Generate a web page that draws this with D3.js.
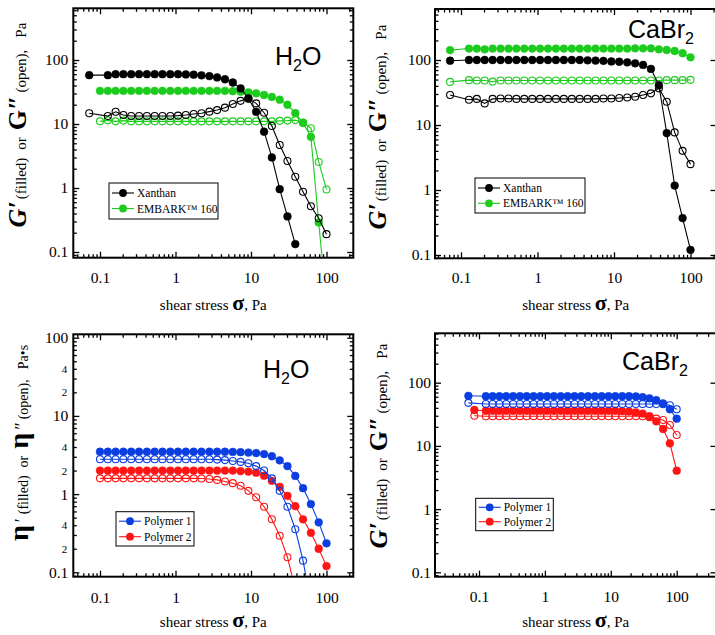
<!DOCTYPE html>
<html><head><meta charset="utf-8">
<script src="https://cdn.jsdelivr.net/npm/d3@7"></script>
<style>
html,body{margin:0;padding:0;background:#fff;}
svg{display:block;}
text{font-family:"Liberation Serif","Times New Roman",serif;fill:#000;}
</style></head><body>
<svg id="c" width="715" height="635"></svg>
<script>
// ================= DATA =================
const xTickValues = [0.1, 1, 10, 100];
const xTickLabels = ["0.1", "1", "10", "100"];
const yTickValues = [0.1, 1, 10, 100];
const yTickLabels = ["0.1", "1", "10", "100"];
const etaMinorValues = [0.2, 0.4, 2, 4, 20, 40];
const etaMinorLabels = ["2", "4", "2", "4", "2", "4"];

// stress sweep points (Pa)
const sweepX = [0.1, 0.127, 0.161, 0.204, 0.259, 0.329, 0.418, 0.530, 0.672, 0.853,
  1.08, 1.37, 1.74, 2.21, 2.81, 3.56, 4.52, 5.74, 7.28, 9.24,
  11.7, 14.9, 18.9, 24.0, 30.4, 38.6, 48.9, 62.1, 78.8, 100];
const sweepXa = [0.072, 0.127, 0.161, 0.204, 0.259, 0.329, 0.418, 0.530, 0.672, 0.853,
  1.08, 1.37, 1.74, 2.21, 2.81, 3.56, 4.52, 5.74, 7.28, 9.24,
  11.7, 14.9, 18.9, 24.0, 30.4, 38.6, 48.9, 62.1, 78.8, 100];
const sweepXb = [0.069, 0.127, 0.161, 0.204, 0.259, 0.329, 0.418, 0.530, 0.672, 0.853,
  1.08, 1.37, 1.74, 2.21, 2.81, 3.56, 4.52, 5.74, 7.28, 9.24,
  11.7, 14.9, 18.9, 24.0, 30.4, 38.6, 48.9, 62.1, 78.8, 100];
const sweepXc = [0.085, 0.127, 0.161, 0.204, 0.259, 0.329, 0.418, 0.530, 0.672, 0.853,
  1.08, 1.37, 1.74, 2.21, 2.81, 3.56, 4.52, 5.74, 7.28, 9.24,
  11.7, 14.9, 18.9, 24.0, 30.4, 38.6, 48.9, 62.1, 78.8, 100];

// Panel 1: H2O, G' (filled) and G'' (open), Pa
const h2oXanthanGp  = [58, 58, 60, 60, 60, 60, 60, 60, 60, 60, 60, 59.5, 59, 57.6, 56, 53.5, 50, 44.5, 36, 25, 15.5, 7.6, 3.0, 0.96, 0.36, 0.133];
const h2oXanthanGpp = [14.7, 13.3, 15.5, 13.8, 13.3, 13.3, 13.3, 13.3, 13.3, 13.3, 13.5, 13.8, 14.3, 14.7, 15.6, 16.5, 18.0, 20.5, 23, 25, 21, 15, 9.3, 4.7, 2.64, 1.5, 0.875, 0.52, 0.336, 0.19];
const h2oEmbarkGp   = [33, 33, 33, 33, 33, 33, 33, 33, 33, 33, 33, 33, 33, 33, 33, 33, 33, 32.6, 32, 31.3, 30.2, 28.4, 26.5, 24, 20, 14.8, 10.4, 6.3, 0.29, 0.016];
const h2oEmbarkGpp  = [11.0, 11.4, 11.0, 11.3, 11.0, 11.0, 11.0, 11.0, 11.0, 11.0, 11.0, 11.0, 11.0, 11.0, 11.0, 11.0, 11.0, 11.0, 11.0, 11.0, 11.0, 11.0, 11.0, 11.2, 11.3, 11.5, 10.5, 8.6, 2.55, 0.95];

// Panel 2: CaBr2, G' and G''
const cabXanthanGp  = [97.5, 100, 100, 100, 100, 100, 100, 100, 100, 100, 100, 100, 100, 100, 100, 100, 99, 98, 97, 95, 94, 92, 89, 84, 73, 41, 7.5, 1.17, 0.37, 0.12];
const cabXanthanGpp = [28.9, 24.5, 25.2, 21.5, 25.2, 25.5, 25.5, 25.2, 25.2, 25.2, 25.2, 25.2, 25.2, 25.2, 25.2, 25.2, 25.2, 25.2, 25.5, 25.5, 26, 26.5, 27.2, 28.9, 30.7, 36.6, 22.8, 7.7, 4.0, 2.5];
const cabEmbarkGp   = [142, 150, 150, 146, 150, 150, 150, 150, 150, 150, 150, 150, 150, 150, 150, 150, 150, 150, 150, 150, 150, 150, 151, 151, 151, 146, 142.5, 137.5, 127, 110];
const cabEmbarkGpp  = [46, 49, 48.5, 48.5, 46.5, 48.5, 48.5, 48.5, 48.5, 48.5, 48.5, 48.5, 48.5, 48.5, 48.5, 48.5, 48.5, 48.5, 48.5, 48.5, 48.5, 48.5, 48.5, 48.5, 48.5, 48.5, 49, 49, 49, 49.5];

// Panel 3: H2O, eta' (filled) and eta'' (open), Pa·s
const h2oPoly1Etap  = [3.48, 3.48, 3.48, 3.48, 3.48, 3.48, 3.48, 3.48, 3.48, 3.48, 3.48, 3.48, 3.48, 3.48, 3.48, 3.48, 3.48, 3.46, 3.44, 3.40, 3.35, 3.25, 3.05, 2.7, 2.28, 1.71, 1.19, 0.746, 0.435, 0.235];
const h2oPoly1Etapp = [2.79, 2.79, 2.79, 2.79, 2.79, 2.79, 2.79, 2.79, 2.79, 2.79, 2.79, 2.79, 2.79, 2.79, 2.79, 2.76, 2.72, 2.65, 2.58, 2.48, 2.28, 2.0, 1.59, 1.10, 0.69, 0.355, 0.141, 0.04];
const h2oPoly2Etap  = [2.0, 2.0, 2.0, 2.0, 2.0, 2.0, 2.0, 2.0, 2.0, 2.0, 2.0, 2.0, 2.0, 2.0, 2.0, 2.0, 2.0, 2.0, 1.97, 1.94, 1.88, 1.72, 1.48, 1.24, 0.95, 0.7, 0.476, 0.32, 0.2, 0.12];
const h2oPoly2Etapp = [1.59, 1.59, 1.59, 1.59, 1.59, 1.59, 1.59, 1.59, 1.59, 1.59, 1.59, 1.59, 1.59, 1.58, 1.56, 1.52, 1.45, 1.38, 1.28, 1.10, 0.91, 0.69, 0.476, 0.294, 0.156, 0.06];

// Panel 4: CaBr2, G' and G''
const cabPoly1Gp  = [62, 61, 61, 61, 61, 61, 61, 61, 61, 61, 61, 61, 61, 61, 61, 61, 61, 61, 61, 61, 61, 61, 61, 60.5, 59, 56.6, 53, 47, 38, 27];
const cabPoly1Gpp = [48, 46, 46, 46, 46, 46, 46, 46, 46, 46, 46, 46, 46, 46, 46, 46, 46, 46, 46, 46, 46, 46, 46, 46, 46, 46, 46, 45.5, 44, 38];
const cabPoly2Gp  = [37, 36, 36, 36, 36, 36, 36, 36, 36, 36, 36, 36, 36, 36, 36, 36, 36, 36, 36, 36, 36, 35.5, 35, 34, 32.5, 29.5, 24.5, 18.5, 11, 4.05];
const cabPoly2Gpp = [30, 29.5, 29.5, 29.5, 29.5, 29.5, 29.5, 29.5, 29.5, 29.5, 29.5, 29.5, 29.5, 29.5, 29.5, 29.5, 29.5, 29.5, 29.5, 29.5, 29.5, 29.5, 29.5, 29.5, 29.5, 28.5, 27, 25.7, 21.4, 14.9];

const legendA = ["Xanthan", "EMBARK\u2122 160"];
const legendB = ["Polymer 1", "Polymer 2"];
const xTitle = ["shear stress ", "\u03C3", ", Pa"];

// ================= STYLE / LAYOUT =================
const C = {black: "#000000", green: "#1ccc1c", blue: "#0a3ee0", red: "#ff1414"};

const svg = d3.select("#c");
let clipId = 0;

function zip(xs, ys) { return ys.map((v, i) => [xs[i], v]); }

function drawPanel(cfg) {
  const g = svg.append("g");
  const x = d3.scaleLog().domain([0.1, 100]).range(cfg.xr);
  const y = d3.scaleLog().domain([0.1, 100]).range(cfg.yr);
  const xMin = x.invert(cfg.l), xMax = x.invert(cfg.r);
  const yMin = y.invert(cfg.b), yMax = y.invert(cfg.t);
  const minors = (lo, hi) => {
    const out = [];
    for (let e = -3; e <= 3; e++) for (let m = 2; m <= 9; m++) {
      const v = m * Math.pow(10, e);
      if (v > lo && v < hi) out.push(v);
    }
    return out;
  };
  const xMinor = minors(xMin, xMax), yMinor = minors(yMin, yMax);
  const MAJ = 6, MIN = 3.5;

  function styleAxis(sel) {
    sel.select(".domain").remove();
    sel.selectAll(".tick line").attr("stroke-width", 1.3);
    sel.attr("font-family", null).attr("font-size", null);
  }
  // bottom
  g.append("g").attr("transform", `translate(0,${cfg.b})`)
    .call(d3.axisBottom(x).tickValues(xTickValues).tickSizeInner(-MAJ).tickSizeOuter(0).tickPadding(cfg.xpad)
      .tickFormat((d, i) => xTickLabels[i]))
    .call(styleAxis).selectAll("text").attr("font-size", 15.5);
  g.append("g").attr("transform", `translate(0,${cfg.b})`)
    .call(d3.axisBottom(x).tickValues(xMinor).tickSizeInner(-MIN).tickSizeOuter(0).tickFormat(""))
    .call(styleAxis);
  // top
  g.append("g").attr("transform", `translate(0,${cfg.t})`)
    .call(d3.axisTop(x).tickValues(xTickValues).tickSizeInner(-MAJ).tickSizeOuter(0).tickFormat(""))
    .call(styleAxis);
  g.append("g").attr("transform", `translate(0,${cfg.t})`)
    .call(d3.axisTop(x).tickValues(xMinor).tickSizeInner(-MIN).tickSizeOuter(0).tickFormat(""))
    .call(styleAxis);
  // left
  g.append("g").attr("transform", `translate(${cfg.l},0)`)
    .call(d3.axisLeft(y).tickValues(yTickValues).tickSizeInner(-MAJ).tickSizeOuter(0).tickPadding(cfg.ypad)
      .tickFormat((d, i) => yTickLabels[i]))
    .call(styleAxis).selectAll("text").attr("font-size", 15.5);
  g.append("g").attr("transform", `translate(${cfg.l},0)`)
    .call(d3.axisLeft(y).tickValues(yMinor).tickSizeInner(-MIN).tickSizeOuter(0).tickFormat(""))
    .call(styleAxis);
  if (cfg.eta) {
    g.append("g").attr("transform", `translate(${cfg.l},0)`)
      .call(d3.axisLeft(y).tickValues(etaMinorValues).tickSize(0).tickPadding(cfg.ypad + 1)
        .tickFormat((d, i) => etaMinorLabels[i]))
      .call(styleAxis).selectAll("text").attr("font-size", 11);
  }
  // right
  g.append("g").attr("transform", `translate(${cfg.r},0)`)
    .call(d3.axisRight(y).tickValues(yTickValues).tickSizeInner(-MAJ).tickSizeOuter(0).tickFormat(""))
    .call(styleAxis);
  if (cfg.rightMinor) {
    g.append("g").attr("transform", `translate(${cfg.r},0)`)
      .call(d3.axisRight(y).tickValues(yMinor).tickSizeInner(-MIN).tickSizeOuter(0).tickFormat(""))
      .call(styleAxis);
  }
  // frame
  g.append("rect").attr("x", cfg.l).attr("y", cfg.t).attr("width", cfg.r - cfg.l).attr("height", cfg.b - cfg.t)
    .attr("fill", "none").attr("stroke", "#000").attr("stroke-width", 2);

  // data
  const id = "clip" + (clipId++);
  svg.append("clipPath").attr("id", id).append("rect")
    .attr("x", cfg.l + 1).attr("y", cfg.t + 1).attr("width", cfg.r - cfg.l - 2).attr("height", cfg.b - cfg.t - 2);
  const dg = g.append("g").attr("clip-path", `url(#${id})`);
  const line = d3.line().x(d => x(d[0])).y(d => y(d[1]));
  cfg.series.forEach(s => {
    const pts = zip(s.x, s.y);
    dg.append("path").datum(pts).attr("d", line).attr("fill", "none")
      .attr("stroke", s.color).attr("stroke-width", 1.1);
    dg.selectAll(null).data(pts).enter().append("circle")
      .attr("cx", d => x(d[0])).attr("cy", d => y(d[1]))
      .attr("r", s.filled ? 3.9 : 3.5)
      .attr("fill", s.filled ? s.color : "none")
      .attr("stroke", s.color).attr("stroke-width", s.filled ? 0.5 : 1.1);
  });

  // medium label (H2O / CaBr2)
  const ml = g.append("text").attr("x", cfg.mx).attr("y", cfg.my)
    .style("font-family", "'Liberation Sans', Arial, sans-serif").attr("font-size", 25);
  ml.append("tspan").text(cfg.medium[0]);
  ml.append("tspan").attr("font-size", 16).attr("dy", 6).text(cfg.medium[1]);
  if (cfg.medium[2]) ml.append("tspan").attr("dy", -6).text(cfg.medium[2]);

  // x title
  const xt = g.append("text").attr("x", (cfg.l + cfg.r) / 2).attr("y", cfg.xty).attr("text-anchor", "middle").attr("font-size", 15);
  xt.append("tspan").text(xTitle[0]);
  xt.append("tspan").attr("font-size", 22).attr("font-weight", "bold").text(xTitle[1]);
  xt.append("tspan").text(xTitle[2]);

  // y title
  const yt = g.append("text").attr("transform", `translate(${cfg.ytx},${cfg.yty}) rotate(-90)`)
    .attr("text-anchor", "middle");
  cfg.ytitle.forEach(p => {
    const ts = yt.append("tspan").attr("font-size", p.s).text(p.t);
    if (p.b) ts.attr("font-weight", "bold");
    if (p.i) ts.attr("font-style", "italic");
    if (p.dx) ts.attr("dx", p.dx);
  });

  // legend
  const L = cfg.legend;
  g.append("rect").attr("x", L.x).attr("y", L.y).attr("width", L.w).attr("height", L.h)
    .attr("fill", "#fff").attr("stroke", "#000").attr("stroke-width", 1);
  L.items.forEach((it, i) => {
    const yy = L.y + L.y0 + i * L.dy;
    g.append("line").attr("x1", L.x + 3).attr("x2", L.x + 25).attr("y1", yy).attr("y2", yy)
      .attr("stroke", it.color).attr("stroke-width", 1.1);
    g.append("circle").attr("cx", L.x + 14).attr("cy", yy).attr("r", 3.9).attr("fill", it.color);
    g.append("text").attr("x", L.x + 28).attr("y", yy + 4).attr("font-size", 11.5).text(it.label);
  });
}

const gTitle = [
  {t: "G\u2032", s: 26, b: true, i: true},
  {t: "(filled)", s: 15, dx: 2},
  {t: "or", s: 15, dx: 8},
  {t: "G", s: 26, b: true, dx: 7},
  {t: "\u2033", s: 26, b: true, i: true},
  {t: "(open),", s: 15, dx: 3},
  {t: "Pa", s: 15, dx: 12}
];
const etaTitle = [
  {t: "\u03B7", s: 28, b: true},
  {t: "\u2032", s: 18, dx: 3},
  {t: "(filled)", s: 14, dx: 4},
  {t: "or", s: 14, dx: 8},
  {t: "\u03B7", s: 28, b: true, dx: 7},
  {t: "\u2033", s: 18, dx: 3},
  {t: "(open),", s: 14, dx: 3},
  {t: "Pa\u2022s", s: 14, dx: 10}
];

drawPanel({
  l: 73.3, t: 8.3, r: 353.3, b: 257.7, xr: [100, 326.5], yr: [252, 60], rightMinor: true,
  xpad: 14, ypad: 5, medium: ["H", "2", "O"], mx: 275, my: 65, xty: 310, ytx: 26, yty: 125,
  ytitle: gTitle,
  legend: {x: 109, y: 183, w: 109, h: 36, y0: 10, dy: 15.5,
    items: [{label: legendA[0], color: C.black}, {label: legendA[1], color: C.green}]},
  series: [
    {x: sweepX, y: h2oEmbarkGpp, color: C.green, filled: false},
    {x: sweepX, y: h2oEmbarkGp, color: C.green, filled: true},
    {x: sweepXa, y: h2oXanthanGpp, color: C.black, filled: false},
    {x: sweepXa, y: h2oXanthanGp, color: C.black, filled: true}
  ]
});

drawPanel({
  l: 435, t: 9, r: 716.5, b: 258.3, xr: [461, 690.5], yr: [255, 60], rightMinor: false,
  xpad: 14, ypad: 4, medium: ["CaBr", "2"], mx: 628, my: 38, xty: 310, ytx: 386, yty: 127,
  ytitle: gTitle,
  legend: {x: 475, y: 178, w: 110, h: 35, y0: 10, dy: 15.3,
    items: [{label: legendA[0], color: C.black}, {label: legendA[1], color: C.green}]},
  series: [
    {x: sweepXa, y: cabEmbarkGpp, color: C.green, filled: false},
    {x: sweepXa, y: cabEmbarkGp, color: C.green, filled: true},
    {x: sweepXa, y: cabXanthanGpp, color: C.black, filled: false},
    {x: sweepXa, y: cabXanthanGp, color: C.black, filled: true}
  ]
});

drawPanel({
  l: 73.3, t: 334.3, r: 353.3, b: 576.7, xr: [100, 326.5], yr: [572.3, 337.7], rightMinor: true, eta: true,
  xpad: 15, ypad: 5, medium: ["H", "2", "O"], mx: 263, my: 378, xty: 627, ytx: 28, yty: 443,
  ytitle: etaTitle,
  legend: {x: 116, y: 511.7, w: 78, h: 34.3, y0: 9.5, dy: 15.5,
    items: [{label: legendB[0], color: C.blue}, {label: legendB[1], color: C.red}]},
  series: [
    {x: sweepX, y: h2oPoly2Etapp, color: C.red, filled: false},
    {x: sweepX, y: h2oPoly2Etap, color: C.red, filled: true},
    {x: sweepX, y: h2oPoly1Etapp, color: C.blue, filled: false},
    {x: sweepX, y: h2oPoly1Etap, color: C.blue, filled: true}
  ]
});

drawPanel({
  l: 435, t: 333.3, r: 716.5, b: 576.7, xr: [479, 676.7], yr: [572.3, 382.7], rightMinor: false,
  xpad: 14, ypad: 4, medium: ["CaBr", "2"], mx: 622, my: 370, xty: 627, ytx: 387, yty: 446,
  ytitle: gTitle,
  legend: {x: 475.7, y: 498.3, w: 77.6, h: 32.4, y0: 9, dy: 14.4,
    items: [{label: legendB[0], color: C.blue}, {label: legendB[1], color: C.red}]},
  series: [
    {x: sweepXc, y: cabPoly2Gpp, color: C.red, filled: false},
    {x: sweepXc, y: cabPoly2Gp, color: C.red, filled: true},
    {x: sweepXb, y: cabPoly1Gpp, color: C.blue, filled: false},
    {x: sweepXb, y: cabPoly1Gp, color: C.blue, filled: true}
  ]
});
</script>
</body></html>
